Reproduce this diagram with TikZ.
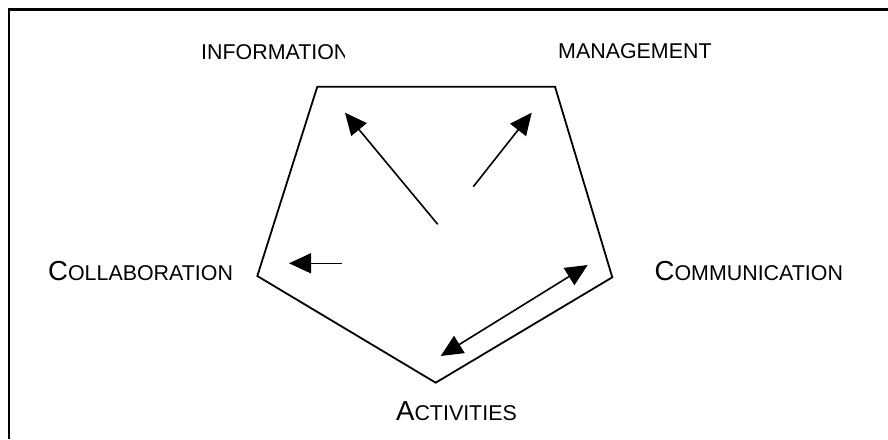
\documentclass[tikz,border=0pt]{standalone}
\usepackage{fontspec}
\setmainfont{Liberation Sans}
\usetikzlibrary{arrows.meta}
\newcommand{\bigsz}{\fontsize{27.5}{27.5}\selectfont}
\newcommand{\smsz}{\fontsize{21.4}{21.4}\selectfont}
\begin{document}
\begin{tikzpicture}[x=1pt,y=-1pt,
  lbl/.style={inner sep=0pt,anchor=base west,font=\smsz},
  edge/.style={line width=1.8pt},
  arr/.style={line width=1.6pt,-{Triangle[length=22pt,width=20pt]}},
  darr/.style={line width=1.6pt,{Triangle[length=22pt,width=20pt]}-{Triangle[length=22pt,width=20pt]}}]
\useasboundingbox (0,0) rectangle (888,439);
\fill[white] (0,0) rectangle (888,439);
% frame
\coordinate (fa) at (8,9.5);
\coordinate (fb) at (888,9.5);
\coordinate (fc) at (9,8);
\coordinate (fd) at (9,439);
\draw[line width=2.7pt] (fa) -- (fb);
\draw[line width=2pt] (fc) -- (fd);
% pentagon
\coordinate (tl) at (317.3,86.7);
\coordinate (tr) at (555,86.7);
\coordinate (rt) at (612.3,277.3);
\coordinate (bt) at (435.7,382.7);
\coordinate (lf) at (257.3,276);
\draw[edge] (tl) -- (tr) -- (rt) -- (bt) -- (lf) -- cycle;
% arrows
\coordinate (a1s) at (437.7,224.3);
\coordinate (a1e) at (345,112.7);
\coordinate (a2s) at (473.3,186.7);
\coordinate (a2e) at (531.7,112.7);
\coordinate (a3s) at (341.7,263.3);
\coordinate (a3e) at (289,263.3);
\coordinate (a4s) at (440.7,356);
\coordinate (a4e) at (587.7,265);
\draw[arr] (a1s) -- (a1e);
\draw[arr] (a2s) -- (a2e);
\draw[arr] (a3s) -- (a3e);
\draw[darr] (a4s) -- (a4e);
% labels
\begin{scope}
\clip (150,20) rectangle (344,80);
\node[lbl] (info) at (201,59.3) {INFORMATION};
\end{scope}
\node[lbl] (mgmt) at (558,58.7) {MANAGEMENT};
\node[lbl] (coll) at (48,280.7) {{\bigsz C}OLLABORATION};
\node[lbl] (comm) at (654.5,280.7) {{\bigsz C}OMMUNICATION};
\node[lbl] (act) at (396,420) {{\bigsz A}CTIVITIES};
\end{tikzpicture}
\end{document}
